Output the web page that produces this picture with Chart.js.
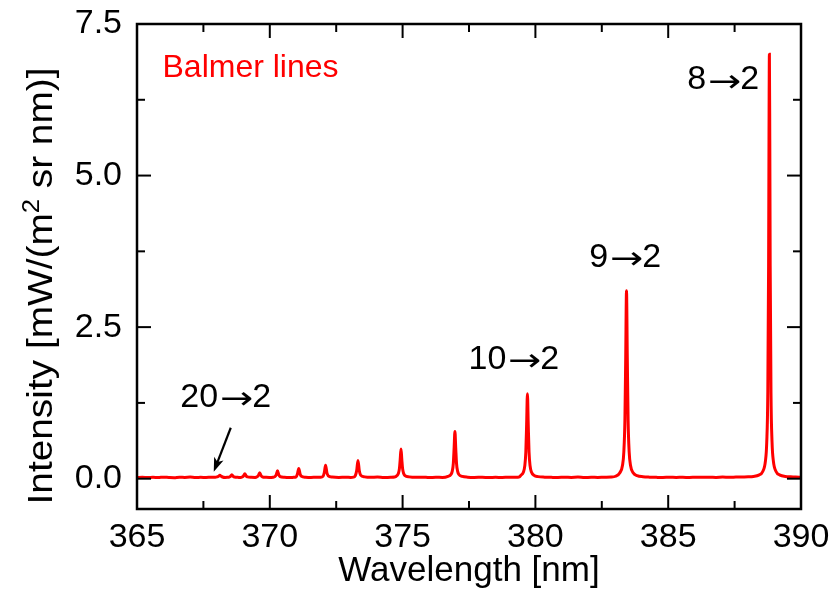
<!DOCTYPE html>
<html>
<head>
<meta charset="utf-8">
<script src="https://cdn.jsdelivr.net/npm/chart.js@4/dist/chart.umd.min.js"></script>
<style>
  html, body { margin: 0; padding: 0; background: #fff; }
  #c { display: block; }
</style>
</head>
<body>
<canvas id="c" width="834" height="589"></canvas>
<script>
// Balmer series emission spectrum, 365–390 nm
const wavelength = [
  365.00, 365.20, 365.40, 365.60, 365.80, 366.00, 366.20, 366.40, 366.60, 366.80,
  367.00, 367.20, 367.40, 367.60, 367.80, 367.95, 368.02, 368.07, 368.12, 368.17,
  368.22, 368.32, 368.40, 368.47, 368.52, 368.57, 368.62, 368.67, 368.80, 368.90,
  368.96, 369.01, 369.06, 369.11, 369.16, 369.30, 369.45, 369.52, 369.57, 369.62,
  369.67, 369.72, 369.85, 369.98, 370.12, 370.19, 370.24, 370.29, 370.34, 370.39,
  370.55, 370.75, 370.90, 370.99, 371.04, 371.09, 371.14, 371.19, 371.35, 371.55,
  371.75, 371.92, 372.00, 372.05, 372.10, 372.15, 372.20, 372.35, 372.60, 372.85,
  373.05, 373.15, 373.22, 373.27, 373.32, 373.37, 373.42, 373.57, 373.80, 374.05,
  374.30, 374.55, 374.70, 374.79, 374.84, 374.88, 374.91, 374.94, 374.97, 375.00,
  375.04, 375.09, 375.25, 375.50, 375.75, 376.00, 376.25, 376.50, 376.71, 376.82,
  376.87, 376.91, 376.94, 376.97, 377.00, 377.03, 377.07, 377.12, 377.25, 377.45,
  377.70, 378.00, 378.25, 378.50, 378.75, 379.00, 379.25, 379.40, 379.45, 379.55,
  379.60, 379.64, 379.67, 379.70, 379.73, 379.76, 379.80, 379.85, 379.95, 380.10,
  380.35, 380.60, 380.85, 381.10, 381.35, 381.60, 381.85, 382.10, 382.35, 382.60,
  382.85, 383.02, 383.18, 383.28, 383.33, 383.37, 383.40, 383.43, 383.46, 383.49,
  383.53, 383.58, 383.68, 383.83, 384.05, 384.30, 384.55, 384.80, 385.05, 385.30,
  385.55, 385.80, 386.05, 386.30, 386.55, 386.80, 387.05, 387.30, 387.55, 387.80,
  388.01, 388.21, 388.41, 388.56, 388.66, 388.71, 388.75, 388.78, 388.795, 388.81,
  388.825, 388.84, 388.87, 388.91, 388.96, 389.06, 389.21, 389.41, 389.61, 389.80,
  390.00
];
const intensity = [
  0.020, 0.024, 0.018, 0.022, 0.019, 0.025, 0.020, 0.017, 0.023, 0.021,
  0.026, 0.019, 0.022, 0.020, 0.024, 0.022, 0.030, 0.040, 0.055, 0.040,
  0.028, 0.021, 0.023, 0.027, 0.040, 0.065, 0.040, 0.027, 0.022, 0.020,
  0.028, 0.045, 0.080, 0.045, 0.029, 0.022, 0.021, 0.031, 0.052, 0.100,
  0.052, 0.031, 0.023, 0.020, 0.024, 0.035, 0.063, 0.130, 0.063, 0.035,
  0.022, 0.019, 0.023, 0.030, 0.078, 0.170, 0.078, 0.040, 0.024, 0.020,
  0.025, 0.022, 0.037, 0.098, 0.220, 0.098, 0.047, 0.027, 0.021, 0.024,
  0.020, 0.025, 0.050, 0.130, 0.300, 0.130, 0.059, 0.030, 0.022, 0.026,
  0.019, 0.023, 0.026, 0.051, 0.085, 0.165, 0.320, 0.490, 0.320, 0.165,
  0.085, 0.051, 0.030, 0.022, 0.025, 0.019, 0.024, 0.021, 0.039, 0.070,
  0.125, 0.254, 0.510, 0.780, 0.510, 0.254, 0.125, 0.070, 0.038, 0.025,
  0.021, 0.024, 0.019, 0.023, 0.020, 0.025, 0.022, 0.030, 0.055, 0.111,
  0.210, 0.445, 0.900, 1.400, 0.900, 0.445, 0.210, 0.111, 0.055, 0.034,
  0.025, 0.022, 0.020, 0.024, 0.021, 0.026, 0.020, 0.023, 0.021, 0.025,
  0.027, 0.040, 0.097, 0.223, 0.445, 0.970, 1.990, 3.100, 1.990, 0.970,
  0.445, 0.223, 0.097, 0.050, 0.032, 0.025, 0.022, 0.020, 0.024, 0.021,
  0.023, 0.020, 0.025, 0.022, 0.024, 0.021, 0.026, 0.023, 0.026, 0.028,
  0.030, 0.037, 0.059, 0.119, 0.290, 0.600, 1.420, 3.510, 5.600, 7.000,
  5.600, 3.510, 1.420, 0.600, 0.290, 0.119, 0.059, 0.037, 0.030, 0.026,
  0.024
];

// Axis ticks
const xMajorTicks = [365, 370, 375, 380, 385, 390];
const xMinorTicks = [367.5, 372.5, 377.5, 382.5, 387.5];
const yMajorTicks = [0, 2.5, 5.0, 7.5];
const yMinorTicks = [1.25, 3.75, 6.25];

// Transition labels
const transitionLabels = ['8\u21922', '9\u21922', '10\u21922', '20\u21922'];
const seriesLabel = 'Balmer lines';

const FONT = '"Liberation Sans", Arial, Helvetica, sans-serif';
const ARROW_FONT = '"Noto Sans", "DejaVu Sans", sans-serif';
const RED = '#ff0000';

// where each transition label sits (data units: nm, intensity)
const labelAnchors = [
  { x: 387.07, y: 6.42 },
  { x: 383.38, y: 3.50 },
  { x: 379.19, y: 1.81 },
  { x: 368.34, y: 1.19 }
];
const pointerFrom = { x: 368.53, y: 0.84 };
const pointerTo = { x: 367.89, y: 0.115 };

// Frame with inward major/minor ticks on all four sides
const frameAndTicks = {
  id: 'frameAndTicks',
  afterDatasetsDraw(chart) {
    const { ctx, chartArea: a, scales: { x, y } } = chart;
    const MAJOR = 14, MINOR = 8;
    ctx.save();
    ctx.strokeStyle = '#000';
    ctx.lineWidth = 2;
    ctx.lineCap = 'butt';
    const seg = (x1, y1, x2, y2) => { ctx.beginPath(); ctx.moveTo(x1, y1); ctx.lineTo(x2, y2); ctx.stroke(); };
    const xt = (v, len) => { const p = x.getPixelForValue(v); seg(p, a.bottom, p, a.bottom - len); seg(p, a.top, p, a.top + len); };
    const yt = (v, len) => { const p = y.getPixelForValue(v); seg(a.left, p, a.left + len, p); seg(a.right, p, a.right - len, p); };
    xMajorTicks.forEach(v => xt(v, MAJOR));
    xMinorTicks.forEach(v => xt(v, MINOR));
    yMajorTicks.forEach(v => yt(v, MAJOR));
    yMinorTicks.forEach(v => yt(v, MINOR));
    ctx.lineWidth = 2.5;
    ctx.strokeRect(a.left, a.top, a.right - a.left, a.bottom - a.top);
    ctx.restore();
  }
};

// "n→2" label: digits in the main font, a long thin arrow between them
function drawTransition(ctx, text, cx, baseline) {
  const [left, right] = text.split('\u2192');
  const mainFont = '34px ' + FONT;
  ctx.font = mainFont;
  const wL = ctx.measureText(left).width, wR = ctx.measureText(right).width;
  const arrowW = 31, gapL = 3, gapR = 0;
  const total = wL + gapL + arrowW + gapR + wR;
  let px = cx - total / 2;
  ctx.textAlign = 'left';
  ctx.fillText(left, px, baseline);
  px += wL + gapL;
  ctx.save();
  ctx.font = '32px ' + ARROW_FONT;
  const m = ctx.measureText('\u2192');
  const inkW = (m.actualBoundingBoxRight + m.actualBoundingBoxLeft) || m.width;
  const inkMid = (m.actualBoundingBoxAscent - m.actualBoundingBoxDescent) / 2;
  ctx.translate(px, baseline - 8 + inkMid);
  ctx.scale(arrowW / inkW, 1);
  ctx.fillText('\u2192', m.actualBoundingBoxLeft || 0, 0);
  ctx.restore();
  px += arrowW + gapR;
  ctx.font = mainFont;
  ctx.fillText(right, px, baseline);
}

// Text annotations, pointer arrow and the y-axis title with superscript
const annotations = {
  id: 'annotations',
  afterDraw(chart) {
    const { ctx, scales: { x, y } } = chart;
    ctx.save();
    ctx.textBaseline = 'alphabetic';

    // series name
    ctx.fillStyle = RED;
    ctx.font = '32px ' + FONT;
    ctx.textAlign = 'left';
    ctx.fillText(seriesLabel, x.getPixelForValue(365.96), y.getPixelForValue(6.63));

    // transition labels
    ctx.fillStyle = '#000';
    transitionLabels.forEach((t, i) => {
      const p = labelAnchors[i];
      drawTransition(ctx, t, x.getPixelForValue(p.x), y.getPixelForValue(p.y));
    });

    // pointer to the 20→2 line
    const x1 = x.getPixelForValue(pointerFrom.x), y1 = y.getPixelForValue(pointerFrom.y);
    const x2 = x.getPixelForValue(pointerTo.x), y2 = y.getPixelForValue(pointerTo.y);
    const ang = Math.atan2(y2 - y1, x2 - x1);
    const HL = 14, HW = 5;
    const c = Math.cos(ang), s = Math.sin(ang);
    ctx.strokeStyle = '#000';
    ctx.lineWidth = 2.2;
    ctx.beginPath();
    ctx.moveTo(x1, y1);
    ctx.lineTo(x2 - c * HL * 0.6, y2 - s * HL * 0.6);
    ctx.stroke();
    ctx.beginPath();
    ctx.moveTo(x2, y2);
    ctx.lineTo(x2 - c * HL + s * HW, y2 - s * HL - c * HW);
    ctx.lineTo(x2 - c * HL * 0.75, y2 - s * HL * 0.75);
    ctx.lineTo(x2 - c * HL - s * HW, y2 - s * HL + c * HW);
    ctx.closePath();
    ctx.fillStyle = '#000';
    ctx.fill();

    // y-axis title
    const partA = 'Intensity [mW/(m', sup = '2', partB = ' sr nm)]';
    const mainFont = '35px ' + FONT, supFont = '23px ' + FONT;
    ctx.font = mainFont; const wA = ctx.measureText(partA).width, wB = ctx.measureText(partB).width;
    ctx.font = supFont; const wS = ctx.measureText(sup).width;
    const total = wA + wS + wB;
    const target = 437;
    ctx.translate(52, 286);
    ctx.rotate(-Math.PI / 2);
    ctx.scale(target / total, 1);
    ctx.textAlign = 'left';
    ctx.fillStyle = '#000';
    let cx = -total / 2;
    ctx.font = mainFont; ctx.fillText(partA, cx, 0); cx += wA;
    ctx.font = supFont; ctx.fillText(sup, cx, -13); cx += wS;
    ctx.font = mainFont; ctx.fillText(partB, cx, 0);
    ctx.restore();
  }
};

new Chart(document.getElementById('c'), {
  type: 'line',
  data: {
    datasets: [{
      label: seriesLabel,
      data: wavelength.map((w, i) => ({ x: w, y: intensity[i] })),
      borderColor: RED,
      backgroundColor: RED,
      borderWidth: 3,
      pointRadius: 0,
      cubicInterpolationMode: 'monotone',
      fill: false
    }]
  },
  options: {
    responsive: false,
    animation: false,
    devicePixelRatio: 1,
    layout: { padding: { top: 24, right: 33, left: 0, bottom: 0 } },
    plugins: { legend: { display: false }, tooltip: { enabled: false } },
    scales: {
      x: {
        type: 'linear',
        position: 'bottom',
        min: 365,
        max: 390,
        grid: { display: false, drawTicks: false },
        border: { display: false },
        afterBuildTicks: s => { s.ticks = xMajorTicks.map(v => ({ value: v })); },
        afterFit: s => { s.height = 80; s.paddingLeft = 0; s.paddingRight = 0; },
        ticks: {
          color: '#000',
          font: { family: FONT, size: 34 },
          padding: 8,
          maxRotation: 0,
          autoSkip: false,
          callback: v => String(v)
        },
        title: {
          display: true,
          text: 'Wavelength [nm]',
          color: '#000',
          font: { family: FONT, size: 35, lineHeight: 1 },
          padding: { top: 0, bottom: 0 }
        }
      },
      y: {
        type: 'linear',
        position: 'left',
        min: -0.5,
        max: 7.5,
        grid: { display: false, drawTicks: false },
        border: { display: false },
        afterBuildTicks: s => { s.ticks = yMajorTicks.map(v => ({ value: v })); },
        afterFit: s => { s.width = 137; s.paddingTop = 0; s.paddingBottom = 0; },
        ticks: {
          color: '#000',
          font: { family: FONT, size: 34 },
          padding: 15,
          autoSkip: false,
          callback: v => Number(v).toFixed(1)
        }
      }
    }
  },
  plugins: [frameAndTicks, annotations]
});
</script>
</body>
</html>
